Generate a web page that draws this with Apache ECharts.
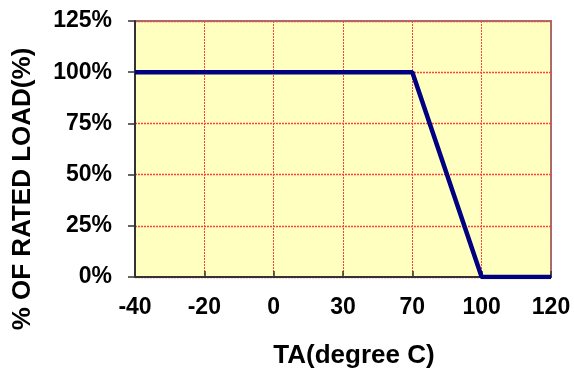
<!DOCTYPE html>
<html>
<head>
<meta charset="utf-8">
<script src="https://cdn.jsdelivr.net/npm/echarts@6/dist/echarts.min.js"></script>
<style>
  html, body { margin: 0; padding: 0; background: #fff; }
  #chart { width: 574px; height: 374px; }
</style>
</head>
<body>
<div id="chart"></div>
<script>
var tempLabels = ['-40', '-20', '0', '30', '70', '100', '120'];
var loadValues = [100, 100, 100, 100, 100, 0, 0];
var loadTicks = [0, 25, 50, 75, 100, 125];

var myChart = echarts.init(document.getElementById('chart'));

var fontFam = '"Liberation Sans", Arial, sans-serif';

var option = {
    animation: false,
    grid: {
        left: 135,
        right: 23,
        top: 21,
        bottom: 97,
        show: true,
        backgroundColor: '#FFFFC0',
        borderColor: '#808080',
        borderWidth: 2
    },
    xAxis: {
        type: 'category',
        data: tempLabels,
        boundaryGap: false,
        name: 'TA(degree C)',
        nameLocation: 'middle',
        nameGap: 66,
        nameTextStyle: {
            color: '#000',
            fontSize: 26,
            fontWeight: 'bold',
            fontFamily: fontFam,
            padding: [0, 0, 0, 22]
        },
        axisLine: {
            lineStyle: { color: '#333', width: 2 }
        },
        axisTick: {
            inside: true,
            length: 6,
            lineStyle: { color: '#333', width: 1.5 }
        },
        axisLabel: {
            margin: 19,
            color: '#000',
            fontSize: 23,
            fontWeight: 'bold',
            fontFamily: fontFam
        },
        splitLine: {
            show: true,
            lineStyle: { color: '#FF4040', type: [2, 1], width: 1 }
        }
    },
    yAxis: {
        type: 'value',
        min: loadTicks[0],
        max: loadTicks[loadTicks.length - 1],
        interval: 25,
        name: '% OF RATED LOAD(%)',
        nameLocation: 'middle',
        nameRotate: 90,
        nameGap: 99,
        nameTextStyle: {
            color: '#000',
            fontSize: 26,
            fontWeight: 'bold',
            fontFamily: fontFam,
            padding: [0, 80, 0, 0]
        },
        axisLine: {
            show: true,
            lineStyle: { color: '#333', width: 2 }
        },
        axisTick: {
            show: true,
            length: 7,
            lineStyle: { color: '#333', width: 1.5 }
        },
        axisLabel: {
            margin: 23,
            color: '#000',
            fontSize: 23,
            fontWeight: 'bold',
            fontFamily: fontFam,
            formatter: '{value}%'
        },
        splitLine: {
            show: true,
            lineStyle: { color: '#FF4040', type: [2, 1], width: 1.3 }
        }
    },
    series: [
        {
            type: 'line',
            data: loadValues,
            symbol: 'none',
            lineStyle: { color: '#000080', width: 4.5 },
            z: 5
        }
    ]
};

myChart.setOption(option);
</script>
</body>
</html>
